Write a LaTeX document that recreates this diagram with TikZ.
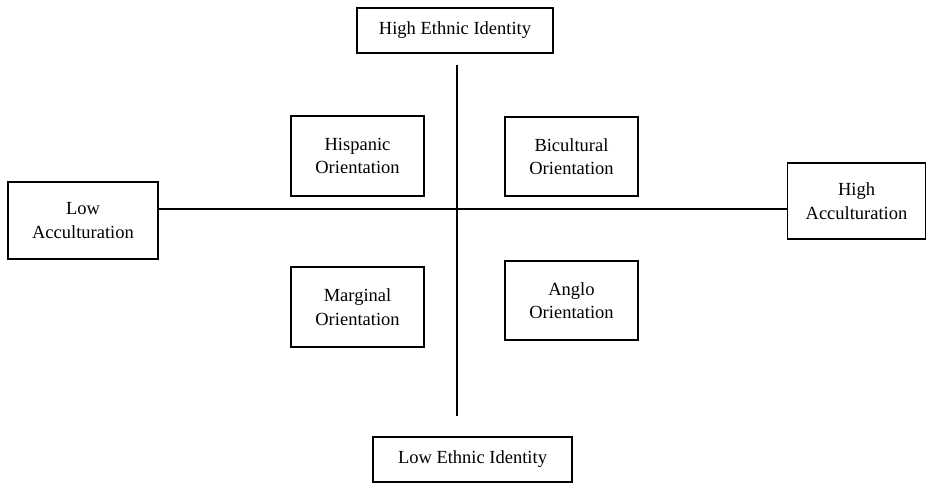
\documentclass[tikz,border=0pt]{standalone}
\usepackage{fontspec}
\setmainfont{Liberation Serif}
\begin{document}
\begin{tikzpicture}[x=1pt,y=-1pt,
  box/.style={draw,line width=1.3pt,align=center,inner sep=0pt,
    font=\fontsize{18.5}{23.5}\selectfont},
  axis/.style={line width=1.3pt}]
\useasboundingbox (0,0) rectangle (927,483);
\node[box,minimum width=196pt,minimum height=45pt] (hei) at (455,30.5) {High Ethnic Identity};
\node[box,minimum width=199pt,minimum height=45pt] (lei) at (472.5,459.5) {Low Ethnic Identity};
\node[box,minimum width=150pt,minimum height=77pt] (la) at (83,220.5) {Low\\Acculturation};
\node[box,minimum width=138pt,minimum height=76pt] (ha) at (856.5,201) {High\\Acculturation};
\node[box,minimum width=133pt,minimum height=80pt] (hisp) at (357.5,156) {Hispanic\\Orientation};
\node[box,minimum width=133pt,minimum height=79pt] (bic) at (571.5,156.5) {Bicultural\\Orientation};
\node[box,minimum width=133pt,minimum height=80pt] (marg) at (357.5,307) {Marginal\\Orientation};
\node[box,minimum width=133pt,minimum height=79pt] (ang) at (571.5,300.5) {Anglo\\Orientation};
\coordinate (hl) at (0,209);
\coordinate (vtop) at (457,65);
\coordinate (vbot) at (457,416);
\draw[axis] (la.east |- hl) -- (ha.west |- hl);
\draw[axis] (vtop) -- (vbot);
\end{tikzpicture}
\end{document}
